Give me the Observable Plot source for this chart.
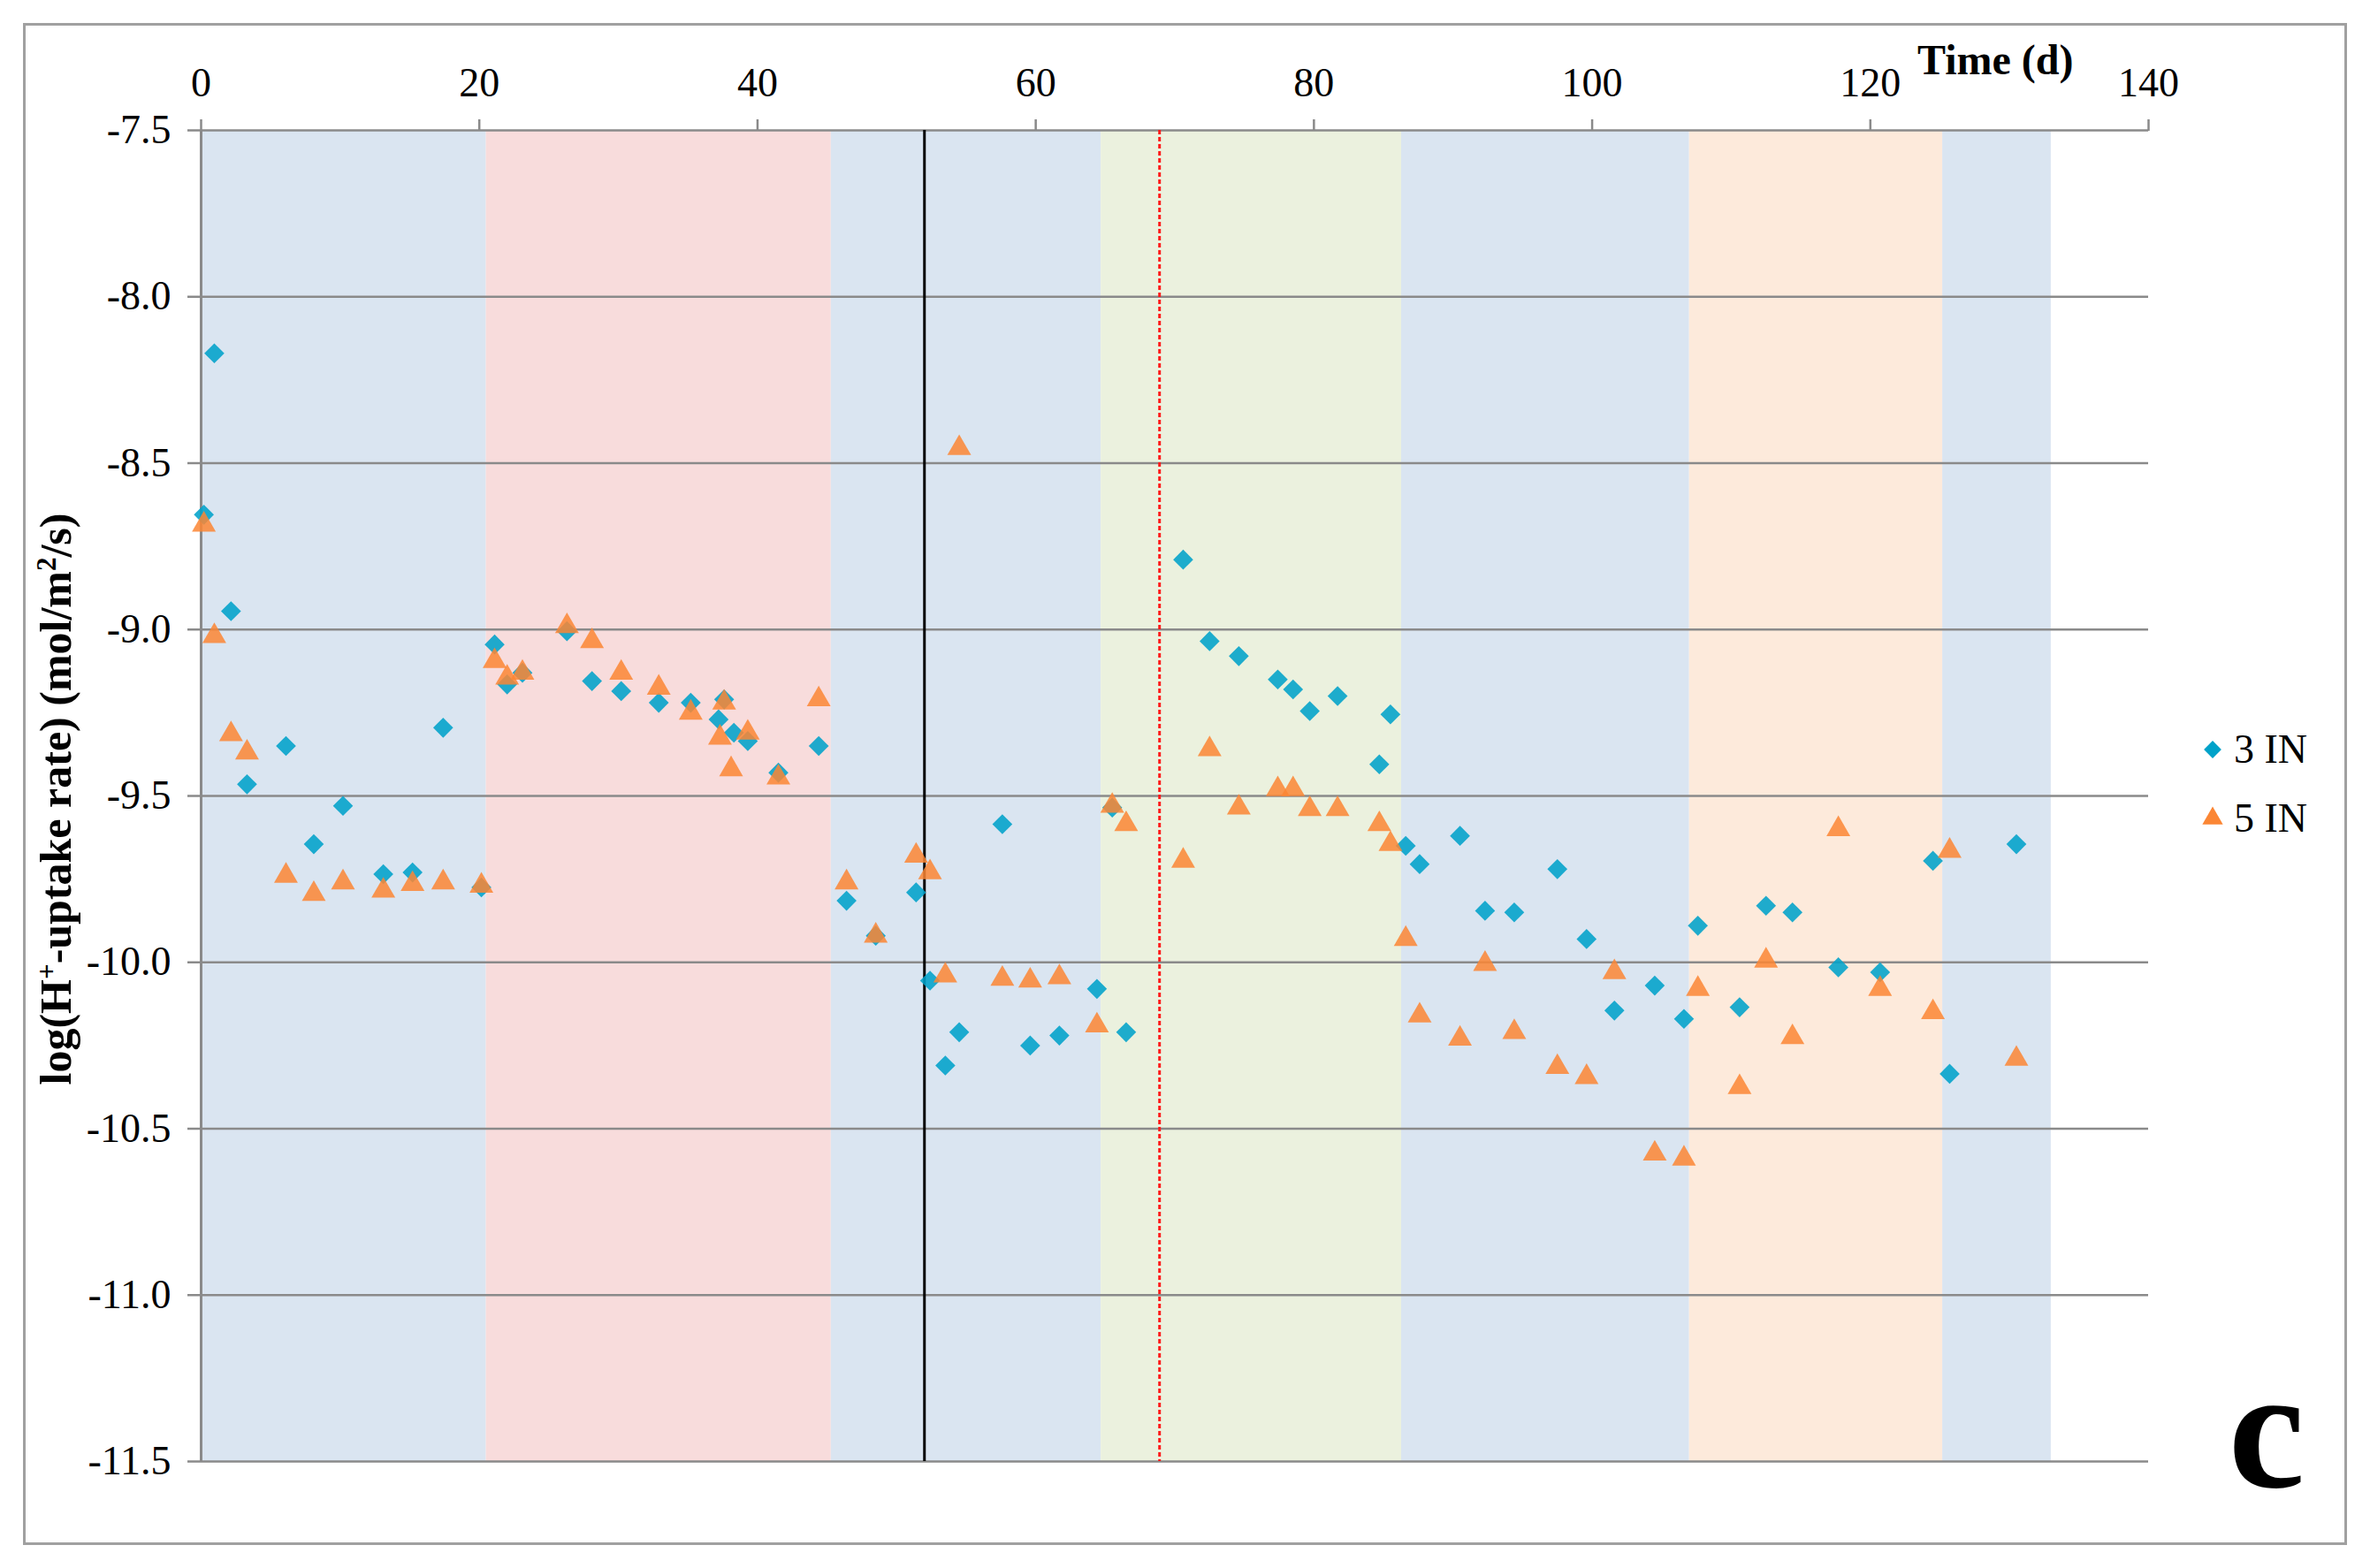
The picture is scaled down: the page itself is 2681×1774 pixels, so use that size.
<!DOCTYPE html>
<html>
<head>
<meta charset="utf-8">
<script src="https://cdn.jsdelivr.net/npm/d3@7"></script>
<script src="https://cdn.jsdelivr.net/npm/@observablehq/plot@0.6"></script>
<style>
  html, body { margin: 0; padding: 0; background: #fff; }
  #chart svg { display: block; }
  #chart svg text { font-family: "Liberation Serif", "Times New Roman", serif; }
</style>
</head>
<body>
<div id="chart"></div>
<script>
// ---- data ----
const days3 = [0.2, 0.95, 2.15, 3.3, 6.1, 8.1, 10.2, 13.1, 15.2, 17.4, 20.15, 21.1, 22.0, 23.1, 26.3, 28.1, 30.2, 32.9, 35.2, 37.2, 37.6, 38.3, 39.3, 41.5, 44.4, 46.4, 48.5, 51.4, 52.4, 53.5, 54.5, 57.6, 59.6, 61.7, 64.4, 65.5, 66.5, 70.6, 72.5, 74.6, 77.4, 78.5, 79.7, 81.7, 84.7, 85.5, 86.6, 87.6, 90.5, 92.3, 94.4, 97.5, 99.6, 101.6, 104.5, 106.6, 107.6, 110.6, 112.5, 114.4, 117.7, 120.7, 124.5, 125.7, 130.5];
const in3 = [-8.655, -8.17, -8.945, -9.465, -9.35, -9.645, -9.53, -9.735, -9.73, -9.295, -9.775, -9.045, -9.165, -9.13, -9.005, -9.155, -9.185, -9.22, -9.22, -9.27, -9.21, -9.31, -9.335, -9.43, -9.35, -9.815, -9.92, -9.79, -10.055, -10.31, -10.21, -9.585, -10.25, -10.22, -10.08, -9.535, -10.21, -8.79, -9.035, -9.08, -9.15, -9.18, -9.245, -9.2, -9.405, -9.255, -9.65, -9.705, -9.62, -9.845, -9.85, -9.72, -9.93, -10.145, -10.07, -10.17, -9.89, -10.135, -9.83, -9.85, -10.015, -10.03, -9.695, -10.335, -9.645];
const days5 = [0.2, 0.95, 2.15, 3.3, 6.1, 8.1, 10.2, 13.1, 15.2, 17.4, 20.15, 21.1, 22.0, 23.1, 26.3, 28.1, 30.2, 32.9, 35.2, 37.3, 37.6, 38.1, 39.3, 41.5, 44.4, 46.4, 48.5, 51.4, 52.4, 53.5, 54.5, 57.6, 59.6, 61.7, 64.4, 65.5, 66.5, 70.6, 72.5, 74.6, 77.4, 78.5, 79.7, 81.7, 84.7, 85.5, 86.6, 87.6, 90.5, 92.3, 94.4, 97.5, 99.6, 101.6, 104.5, 106.6, 107.6, 110.6, 112.5, 114.4, 117.7, 120.7, 124.5, 125.7, 130.5];
const in5 = [-8.685, -9.02, -9.315, -9.37, -9.74, -9.795, -9.76, -9.785, -9.765, -9.76, -9.77, -9.095, -9.145, -9.13, -8.99, -9.035, -9.13, -9.175, -9.25, -9.325, -9.22, -9.42, -9.31, -9.445, -9.21, -9.76, -9.92, -9.68, -9.73, -10.04, -8.455, -10.05, -10.055, -10.045, -10.19, -9.53, -9.585, -9.695, -9.36, -9.535, -9.48, -9.48, -9.54, -9.54, -9.585, -9.645, -9.93, -10.16, -10.23, -10.005, -10.21, -10.315, -10.345, -10.03, -10.575, -10.59, -10.08, -10.375, -9.995, -10.225, -9.6, -10.08, -10.15, -9.665, -10.29];

const bandStart = [0, 20.5, 45.3, 64.7, 86.3, 107.0, 125.2];
const bandEnd   = [20.5, 45.3, 64.7, 86.3, 107.0, 125.2, 133.0];
const bandColor = ["#dae5f1", "#f8dcdc", "#dae5f1", "#ebf1de", "#dae5f1", "#fdeadb", "#dae5f1"];

const blackLineDay = [52.0];
const redLineDay = [68.9];

const xDomain = [0, 140];
const yDomain = [-11.5, -7.5];
const xTicks = [0, 20, 40, 60, 80, 100, 120, 140];
const yTicks = [-7.5, -8.0, -8.5, -9.0, -9.5, -10.0, -10.5, -11.0, -11.5];

const seriesNames = ["3 IN", "5 IN"];
const seriesColors = ["#00a2c9", "#fb8634"];

// ---- tables ----
const pts3 = days3.map((d, i) => ({day: d, v: in3[i]}));
const pts5 = days5.map((d, i) => ({day: d, v: in5[i]}));
const bands = bandStart.map((s, i) => ({start: s, end: bandEnd[i], color: bandColor[i], y1: yDomain[0], y2: yDomain[1]}));

const W = 2681, H = 1774;
const serif = "Liberation Serif, Times New Roman, serif";

const plot = Plot.plot({
  width: W,
  height: H,
  marginLeft: 227,
  marginRight: 251,
  marginTop: 147,
  marginBottom: 121,
  style: {fontFamily: serif, fontSize: "46px", color: "#000", background: "#fff", overflow: "visible"},
  x: {domain: xDomain},
  y: {domain: yDomain},
  color: {type: "identity"},
  marks: [
    Plot.rect(bands, {x1: "start", x2: "end", y1: "y1", y2: "y2", fill: "color"}),
    Plot.ruleY(yTicks, {stroke: "#8a8a8a", strokeWidth: 2.6}),
    Plot.ruleX([xDomain[0]], {stroke: "#8a8a8a", strokeWidth: 3}),
    Plot.ruleX(blackLineDay, {stroke: "#000", strokeWidth: 3}),
    Plot.ruleX(redLineDay, {stroke: "#ff1a1a", strokeWidth: 3, strokeDasharray: "5,3"}),
    Plot.dot(pts3, {x: "day", y: "v", symbol: "diamond2", r: 10.2, fill: seriesColors[0], fillOpacity: 0.88, stroke: "none"}),
    Plot.dot(pts5, {x: "day", y: "v", symbol: "triangle", r: 10, fill: seriesColors[1], fillOpacity: 0.85, stroke: "none"}),
    Plot.axisX({anchor: "top", ticks: xTicks, tickSize: 13, tickPadding: 26, tickFormat: d => String(d), stroke: "#8a8a8a", strokeWidth: 2.5, fill: "#000", label: null}),
    Plot.axisY({anchor: "left", ticks: yTicks, tickSize: 15, tickPadding: 19, tickFormat: d => d.toFixed(1), stroke: "#8a8a8a", strokeWidth: 2.5, fill: "#000", label: null})
  ]
});

document.getElementById("chart").appendChild(plot);

// ---- decorations (border, titles, legend) ----
const svg = d3.select(plot);

svg.insert("rect", ":first-child")
  .attr("x", 27.5).attr("y", 27.5)
  .attr("width", 2626).attr("height", 1719)
  .attr("fill", "none").attr("stroke", "#a0a0a0").attr("stroke-width", 3);

svg.append("text")
  .attr("x", 2169).attr("y", 84)
  .attr("text-anchor", "start")
  .attr("font-size", 48).attr("font-weight", "bold")
  .attr("fill", "#000")
  .text("Time (d)");

const yl = svg.append("text")
  .attr("transform", "translate(80,904) rotate(-90)")
  .attr("text-anchor", "middle")
  .attr("font-size", 50).attr("font-weight", "bold")
  .attr("fill", "#000");
yl.append("tspan").text("log(H");
yl.append("tspan").attr("baseline-shift", "super").attr("font-size", 31).text("+");
yl.append("tspan").text("-uptake rate) (mol/m");
yl.append("tspan").attr("baseline-shift", "super").attr("font-size", 31).text("2");
yl.append("tspan").text("/s)");

svg.append("text")
  .attr("x", 2564).attr("y", 1682)
  .attr("text-anchor", "middle")
  .attr("font-size", 195).attr("font-weight", "bold")
  .attr("fill", "#000")
  .text("c");

// legend
const legendSymbols = [d3.symbolDiamond2, d3.symbolTriangle];
const legendY = [848, 926];
seriesNames.forEach((name, i) => {
  svg.append("path")
    .attr("transform", `translate(2503,${legendY[i]})`)
    .attr("d", d3.symbol(legendSymbols[i], i === 0 ? 250 : 235)())
    .attr("fill", seriesColors[i]);
  svg.append("text")
    .attr("x", 2527).attr("y", legendY[i] + 15)
    .attr("text-anchor", "start")
    .attr("font-size", 46)
    .attr("fill", "#000")
    .text(name);
});
</script>
</body>
</html>
